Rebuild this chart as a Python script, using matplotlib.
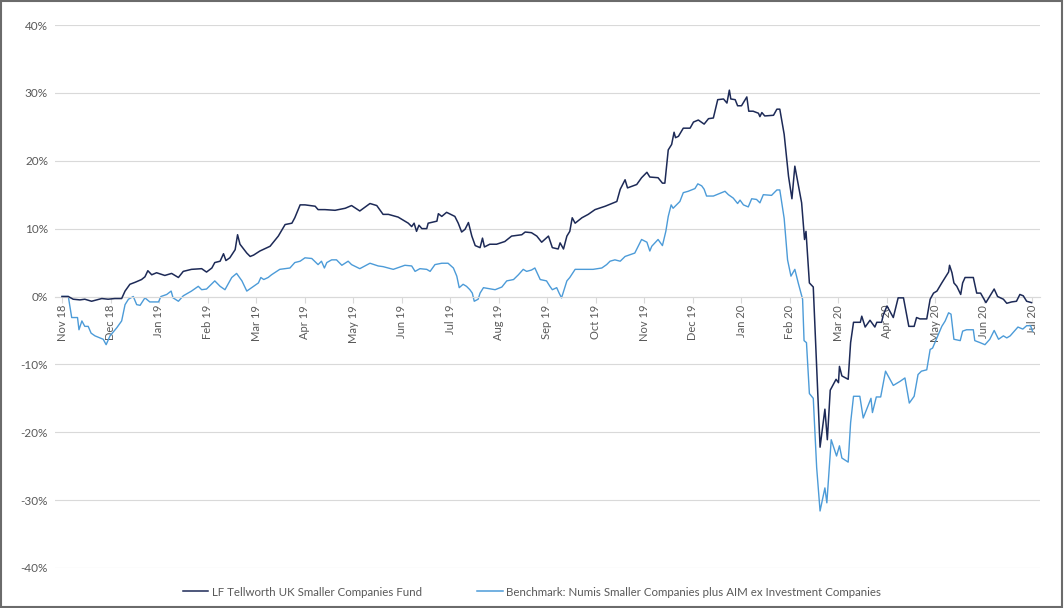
import matplotlib
matplotlib.use("Agg")
import matplotlib.pyplot as plt
from matplotlib.patches import Rectangle
from matplotlib.lines import Line2D

# ---- data (x = months since Nov 18, y = cumulative return %) ----
month_labels = ["Nov 18", "Dec 18", "Jan 19", "Feb 19", "Mar 19", "Apr 19", "May 19",
                "Jun 19", "Jul 19", "Aug 19", "Sep 19", "Oct 19", "Nov 19", "Dec 19",
                "Jan 20", "Feb 20", "Mar 20", "Apr 20", "May 20", "Jun 20", "Jul 20"]

fund_t = [0.00, 0.13, 0.23, 0.37, 0.47, 0.61, 0.82, 0.95, 1.09, 1.23, 1.30, 1.40, 1.51, 1.64,
          1.71, 1.77, 1.85, 1.95, 2.12, 2.26, 2.40, 2.50, 2.67, 2.88, 2.98, 3.09, 3.15, 3.26,
          3.33, 3.38, 3.46, 3.57, 3.62, 3.67, 3.81, 3.88, 3.95, 4.08, 4.29, 4.46, 4.60, 4.74,
          4.80, 4.91, 5.01, 5.22, 5.28, 5.42, 5.63, 5.84, 5.97, 6.14, 6.35, 6.49, 6.62, 6.73,
          6.93, 7.14, 7.21, 7.26, 7.31, 7.36, 7.42, 7.52, 7.55, 7.73, 7.76, 7.83, 7.93, 8.10,
          8.17, 8.24, 8.31, 8.38, 8.45, 8.52, 8.62, 8.67, 8.71, 8.82, 8.96, 9.13, 9.27, 9.48,
          9.55, 9.68, 9.79, 9.89, 10.03, 10.11, 10.23, 10.27, 10.34, 10.41, 10.47, 10.52, 10.58,
          10.72, 10.85, 10.99, 11.20, 11.44, 11.51, 11.61, 11.66, 11.85, 11.95, 12.06, 12.12,
          12.29, 12.38, 12.43, 12.50, 12.57, 12.62, 12.65, 12.71, 12.81, 12.95, 13.02, 13.12,
          13.24, 13.33, 13.43, 13.52, 13.64, 13.71, 13.76, 13.79, 13.88, 13.93, 14.01, 14.12,
          14.16, 14.25, 14.36, 14.39, 14.43, 14.49, 14.67, 14.74, 14.80, 14.89, 14.98, 15.05,
          15.11, 15.25, 15.31, 15.34, 15.41, 15.49, 15.63, 15.73, 15.78, 15.84, 15.96, 16.01,
          16.03, 16.08, 16.21, 16.26, 16.32, 16.46, 16.49, 16.56, 16.66, 16.76, 16.80, 16.90,
          16.93, 17.01, 17.14, 17.24, 17.35, 17.46, 17.57, 17.62, 17.69, 17.83, 17.90, 17.97,
          18.04, 18.14, 18.21, 18.28, 18.30, 18.35, 18.39, 18.45, 18.53, 18.57, 18.62, 18.79,
          18.86, 18.94, 19.05, 19.17, 19.22, 19.29, 19.41, 19.48, 19.58, 19.68, 19.75, 19.82,
          19.89, 19.99]
fund_v = [0.0, 0.0, -0.4, -0.5, -0.4, -0.7, -0.3, -0.4, -0.3, -0.3, 0.8, 1.8, 2.1, 2.5,
          2.9, 3.8, 3.2, 3.5, 3.1, 3.4, 2.8, 3.7, 4.0, 4.1, 3.6, 4.2, 5.0, 5.2,
          6.3, 5.3, 5.7, 6.9, 9.1, 7.7, 6.4, 5.9, 6.1, 6.7, 7.4, 8.9, 10.6, 10.8,
          11.6, 13.5, 13.5, 13.3, 12.8, 12.8, 12.7, 13.0, 13.4, 12.6, 13.7, 13.4, 12.1, 12.1,
          11.7, 10.8, 10.3, 10.8, 9.6, 10.5, 10.0, 10.0, 10.8, 11.1, 12.2, 11.8, 12.4, 11.8,
          10.8, 9.5, 9.9, 10.9, 8.9, 7.5, 7.2, 8.6, 7.3, 7.7, 7.7, 8.1, 8.9, 9.1,
          9.5, 9.4, 8.9, 8.0, 8.9, 7.2, 7.0, 7.9, 7.0, 8.9, 9.6, 11.6, 10.8,
          11.6, 12.1, 12.8, 13.3, 14.0, 15.8, 17.2, 16.0, 16.5, 17.5, 18.3, 17.6,
          17.5, 16.7, 16.7, 21.6, 22.4, 24.2, 23.4, 23.6, 24.8, 24.8, 25.7, 26.0,
          25.4, 26.2, 26.3, 29.0, 29.1, 28.5, 30.4, 29.1, 29.0, 28.1, 28.1, 29.4,
          27.3, 27.3, 27.0, 26.5, 27.1, 26.6, 26.7, 27.6, 27.6, 23.9, 17.7, 14.4,
          19.2, 13.8, 8.4, 9.6, 2.0, 1.4, -22.2, -16.6, -21.1, -13.8, -12.2, -12.7,
          -10.3, -11.7, -12.2, -6.8, -3.8, -3.8, -2.9, -4.5, -3.5, -4.5, -3.8, -3.8,
          -2.8, -1.4, -3.1, -0.2, -0.2, -4.4, -4.4, -3.1, -3.3, -3.3, -0.4, 0.5,
          0.8, 2.0, 2.8, 3.6, 4.6, 3.5, 2.0, 1.5, 0.3, 2.0, 2.8, 2.8,
          0.5, 0.5, -0.9, 0.5, 1.1, 0.0, -0.4, -1.0, -0.8, -0.7, 0.3, 0.1,
          -0.7, -0.9]

bench_t = [0.00, 0.13, 0.20, 0.32, 0.35, 0.41, 0.47, 0.54, 0.60, 0.68, 0.78, 0.85, 0.91, 0.99,
           1.13, 1.23, 1.30, 1.37, 1.47, 1.54, 1.61, 1.71, 1.81, 1.99, 2.04, 2.16, 2.25, 2.29,
           2.40, 2.50, 2.67, 2.81, 2.88, 2.98, 3.15, 3.26, 3.36, 3.50, 3.60, 3.71, 3.81, 3.91,
           4.05, 4.10, 4.16, 4.25, 4.32, 4.49, 4.70, 4.80, 4.91, 5.01, 5.15, 5.28, 5.35, 5.41,
           5.46, 5.56, 5.66, 5.77, 5.90, 5.97, 6.14, 6.35, 6.52, 6.62, 6.83, 7.07, 7.21, 7.28,
           7.38, 7.52, 7.59, 7.69, 7.83, 7.96, 8.07, 8.14, 8.19, 8.27, 8.34, 8.41, 8.46, 8.50,
           8.58, 8.62, 8.69, 8.93, 9.07, 9.17, 9.31, 9.41, 9.51, 9.58, 9.68, 9.75, 9.86, 9.99,
           10.06, 10.11, 10.20, 10.25, 10.30, 10.41, 10.47, 10.58, 10.72, 10.95, 11.13, 11.23,
           11.30, 11.40, 11.51, 11.61, 11.81, 11.88, 11.95, 12.06, 12.12, 12.16, 12.29, 12.38,
           12.45, 12.50, 12.56, 12.60, 12.67, 12.74, 12.81, 12.91, 13.05, 13.11, 13.19, 13.24,
           13.29, 13.43, 13.60, 13.67, 13.74, 13.84, 13.93, 13.98, 14.05, 14.15, 14.22, 14.32,
           14.39, 14.46, 14.63, 14.74, 14.80, 14.89, 14.96, 15.03, 15.11, 15.18, 15.27, 15.30,
           15.35, 15.41, 15.49, 15.56, 15.63, 15.73, 15.77, 15.86, 15.97, 16.03, 16.08, 16.21,
           16.26, 16.32, 16.45, 16.52, 16.68, 16.71, 16.79, 16.88, 16.98, 17.14, 17.28, 17.38,
           17.47, 17.57, 17.65, 17.72, 17.83, 17.90, 17.95, 18.04, 18.14, 18.21, 18.28, 18.33,
           18.39, 18.52, 18.57, 18.65, 18.79, 18.82, 18.93, 19.03, 19.13, 19.22, 19.31, 19.41,
           19.48, 19.55, 19.71, 19.81, 19.89, 19.97, 20.01]
bench_v = [0.0, 0.0, -3.1, -3.1, -4.9, -3.6, -4.4, -4.4, -5.4, -5.8, -6.1, -6.3, -7.1, -5.8,
           -4.6, -3.6, -1.2, -0.4, 0.0, -1.2, -1.3, -0.2, -0.8, -0.8, 0.0, 0.3, 0.8, -0.2,
           -0.7, 0.1, 0.8, 1.5, 1.0, 1.1, 2.3, 1.5, 1.0, 2.8, 3.4, 2.3, 0.8, 1.3,
           2.0, 2.8, 2.5, 2.8, 3.2, 4.0, 4.2, 5.0, 5.2, 5.7, 5.6, 4.7, 5.2, 4.2,
           5.0, 5.4, 5.4, 4.6, 5.2, 4.7, 4.1, 4.9, 4.5, 4.4, 4.0, 4.6, 4.5, 3.7,
           4.1, 4.0, 3.7, 4.7, 4.9, 4.9, 4.2, 3.0, 1.3, 1.8, 1.5, 1.0, 0.5, -0.7,
           -0.4, 0.5, 1.3, 1.0, 1.4, 2.3, 2.5, 3.2, 4.0, 3.7, 3.9, 4.2, 2.5, 2.3,
           1.5, 1.0, 1.3, 0.5, -0.2, 2.3, 2.8, 4.0, 4.0, 4.0, 4.2, 4.7,
           5.2, 5.4, 5.2, 5.9, 6.4, 7.4, 8.4, 8.0, 6.7, 7.4, 8.4, 7.5,
           9.6, 11.8, 13.5, 13.0, 13.5, 14.0, 15.3, 15.5, 15.9, 16.6, 16.3, 15.8,
           14.8, 14.8, 15.3, 15.5, 15.0, 14.5, 13.7, 14.2, 13.5, 13.2, 14.4, 14.3,
           13.8, 15.0, 14.9, 15.7, 15.7, 11.5, 5.4, 3.0, 4.0, 2.0, -0.4, -6.5,
           -6.8, -14.3, -15.0, -25.2, -31.6, -28.2, -30.4, -21.1, -23.5, -22.0, -23.8, -24.4,
           -18.6, -14.7, -14.7, -17.9, -15.0, -17.1, -14.8, -14.8, -11.0, -13.1, -12.5, -12.0,
           -15.7, -14.7, -11.5, -11.0, -10.8, -7.8, -7.6, -6.1, -4.4, -3.6, -2.4, -2.6,
           -6.3, -6.5, -5.1, -4.9, -4.9, -6.5, -6.8, -7.1, -6.3, -5.0, -6.3, -5.8,
           -6.1, -5.8, -4.5, -4.8, -4.3, -4.3, -5.1]

fund_name = "LF Tellworth UK Smaller Companies Fund"
bench_name = "Benchmark: Numis Smaller Companies plus AIM ex Investment Companies"
y_ticks = [-40, -30, -20, -10, 0, 10, 20, 30, 40]

# ---- styling ----
plt.rcParams['font.family'] = ['Lato', 'DejaVu Sans']
fund_color = '#1d2a57'
bench_color = '#4c9bd8'
grey = '#595959'
grid_color = '#d9d9d9'

fig = plt.figure(figsize=(10.64, 6.08), dpi=100)
ax = fig.add_axes([55 / 1064, 1 - 568 / 608, (1040 - 55) / 1064, (568 - 25) / 608])

ax.plot(fund_t, fund_v, color=fund_color, lw=1.1, zorder=3)
ax.plot(bench_t, bench_v, color=bench_color, lw=1.0, zorder=2)

ax.set_ylim(-40, 40)
ax.set_xlim(-7 / 48.5, 20 + 8 / 48.5)
ax.set_yticks(y_ticks)
ax.set_yticklabels([f"{v}%" for v in y_ticks])
ax.yaxis.grid(True, color=grid_color, lw=0.8)
ax.set_axisbelow(True)
ax.tick_params(axis='y', length=0, pad=5, labelsize=8.5, labelcolor=grey)

ax.set_xticks(range(len(month_labels)))
ax.set_xticklabels(month_labels)
ax.tick_params(axis='x', direction='out', length=4, width=0.8, color=grid_color,
               labelsize=8, labelcolor=grey, pad=2, labelrotation=90)
for lab in ax.get_xticklabels():
    lab.set_verticalalignment('top')
    lab.set_horizontalalignment('center')

for s in ['top', 'right', 'left']:
    ax.spines[s].set_visible(False)
ax.spines['bottom'].set_position(('data', 0))
ax.spines['bottom'].set_color(grid_color)
ax.spines['bottom'].set_linewidth(0.8)

handles = [Line2D([], [], color=fund_color, lw=1.1), Line2D([], [], color=bench_color, lw=1.1)]
fig.legend(handles, [fund_name, bench_name], loc='center', bbox_to_anchor=(0.5, 1 - 592 / 608),
           ncol=2, frameon=False, fontsize=8.3, labelcolor=grey, handlelength=2.2,
           handletextpad=0.3, columnspacing=4.8)

fig.add_artist(Rectangle((0.001, 0.002), 0.997, 0.996, transform=fig.transFigure,
                         fill=False, edgecolor='#6b6b6b', lw=1.5))

fig.savefig("out.png", dpi=100)
